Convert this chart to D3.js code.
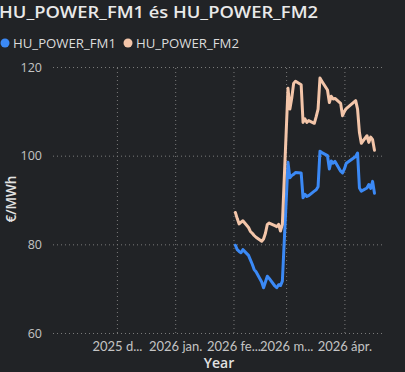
<!DOCTYPE html>
<html>
<head>
<meta charset="utf-8">
<script src="https://cdn.jsdelivr.net/npm/d3@7"></script>
<style>
  html, body {margin: 0; padding: 0; background: #212326; overflow: hidden;}
  svg {display: block; font-family: "Open Sans", "Noto Sans", sans-serif;}
</style>
</head>
<body>
<div id="chart"></div>
<script>
// trading days (business days, Easter holidays skipped)
var dates = [
  "2026-02-02","2026-02-03","2026-02-04","2026-02-05","2026-02-06",
  "2026-02-09","2026-02-10","2026-02-11","2026-02-12","2026-02-13",
  "2026-02-16","2026-02-17","2026-02-18","2026-02-19","2026-02-20",
  "2026-02-23","2026-02-24","2026-02-25","2026-02-26","2026-02-27",
  "2026-03-02","2026-03-03","2026-03-04","2026-03-05","2026-03-06",
  "2026-03-09","2026-03-10","2026-03-11","2026-03-12","2026-03-13",
  "2026-03-16","2026-03-17","2026-03-18","2026-03-19","2026-03-20",
  "2026-03-23","2026-03-24","2026-03-25","2026-03-26","2026-03-27",
  "2026-03-30","2026-03-31","2026-04-01","2026-04-02",
  "2026-04-07","2026-04-08","2026-04-09","2026-04-10",
  "2026-04-13","2026-04-14","2026-04-15","2026-04-16","2026-04-17"
];

var fm1 = [
  79.8, 78.8, 78.4, 78.1, 78.8, 77.5, 76.5, 75.5, 74.3, 73.8,
  71.5, 70.2, 71.5, 72.8, 72.3, 70.6, 70.2, 70.9, 70.7, 71.7,
  98.5, 95.0, 95.5, 95.8, 96.2, 96.1, 90.5, 91.3, 90.8, 91.0,
  92.0, 92.3, 93.0, 101.0, 100.7, 100.0, 97.0, 98.8, 98.3, 98.7,
  96.5, 96.1, 97.0, 98.3,
  99.8, 100.6, 92.7, 92.0,
  92.7, 93.5, 92.6, 94.2, 91.5
];

var fm2 = [
  87.2, 85.8, 84.6, 85.0, 85.3, 83.8, 82.9, 82.5, 82.0, 81.6,
  80.7, 81.2, 82.5, 84.5, 84.8, 84.2, 84.0, 84.5, 83.0, 84.5,
  115.2, 110.5, 113.0, 116.3, 116.8, 116.0, 107.5, 108.3, 107.5, 107.9,
  107.3, 108.8, 110.5, 117.5, 116.8, 114.8, 112.0, 113.4, 112.8, 112.9,
  111.8, 109.0, 110.0, 110.6,
  112.4, 110.5, 105.2, 102.8,
  104.5, 103.0, 104.2, 103.6, 101.2
];

var seriesNames = ["HU_POWER_FM1", "HU_POWER_FM2"];
var seriesColors = ["#3b89f5", "#f3c5a9"];

var xTickDates = ["2025-12-01", "2026-01-01", "2026-02-01", "2026-03-01", "2026-04-01"];
var xTickLabels = ["2025 d...", "2026 jan.", "2026 fe...", "2026 m...", "2026 ápr."];
var yTicks = [60, 80, 100, 120];

var width = 405, height = 372;
var margin = {top: 67, right: 23, bottom: 39, left: 53};

var parse = d3.timeParse("%Y-%m-%d");

var svg = d3.select("#chart")
  .append("svg")
    .attr("width", width)
    .attr("height", height);

var x = d3.scaleTime()
    .domain([parse("2025-10-28"), parse("2026-04-21")])
    .range([margin.left, width - margin.right]);

var y = d3.scaleLinear()
    .domain([60, 120])
    .range([height - margin.bottom, margin.top]);

// title
svg.append("text")
  .attr("x", -1)
  .attr("y", 18)
  .attr("fill", "#e9e9e9")
  .attr("font-size", 15.5)
  .attr("font-weight", 600)
  .attr("textLength", 319)
  .attr("lengthAdjust", "spacingAndGlyphs")
  .text("HU_POWER_FM1 és HU_POWER_FM2");

// legend
var legendX = [5, 128];
seriesNames.forEach(function(name, i){
  svg.append("circle")
    .attr("cx", legendX[i])
    .attr("cy", 43)
    .attr("r", 4.5)
    .attr("fill", seriesColors[i]);
  svg.append("text")
    .attr("x", legendX[i] + 8)
    .attr("y", 48)
    .attr("fill", "#dcdcdc")
    .attr("font-size", 13.5)
    .attr("textLength", 103)
    .attr("lengthAdjust", "spacingAndGlyphs")
    .text(name);
});

// horizontal grid + y labels
var yAxis = svg.append("g")
  .attr("transform", "translate(" + margin.left + ",0)")
  .call(d3.axisLeft(y)
    .tickValues(yTicks)
    .tickSize(-(width - margin.left - margin.right))
    .tickPadding(11)
    .tickFormat(d3.format("d")));
yAxis.select(".domain").remove();
yAxis.selectAll("line")
  .attr("stroke", "#7a7a7a")
  .attr("stroke-width", 1)
  .attr("stroke-dasharray", "1,3");
yAxis.selectAll("text")
  .attr("fill", "#c4c4c4")
  .attr("font-size", 12.5)
  .attr("font-family", "'Open Sans', sans-serif");

// vertical grid + x labels
var xAxis = svg.append("g")
  .attr("transform", "translate(0," + (height - margin.bottom) + ")")
  .call(d3.axisBottom(x)
    .tickValues(xTickDates.map(parse))
    .tickSize(-(height - margin.top - margin.bottom))
    .tickPadding(9)
    .tickFormat(function(d, i){ return xTickLabels[i]; }));
xAxis.select(".domain").remove();
xAxis.selectAll("line")
  .attr("stroke", "#7a7a7a")
  .attr("stroke-width", 1)
  .attr("stroke-dasharray", "1,3");
xAxis.selectAll("text")
  .attr("fill", "#c4c4c4")
  .attr("font-size", 13)
  .attr("font-family", "Lato, 'Open Sans', sans-serif");

// axis titles
svg.append("text")
  .attr("x", 219)
  .attr("y", 368)
  .attr("text-anchor", "middle")
  .attr("fill", "#e2e2e2")
  .attr("font-size", 14)
  .attr("font-weight", 600)
  .text("Year");

svg.append("text")
  .attr("transform", "translate(16,199) rotate(-90)")
  .attr("text-anchor", "middle")
  .attr("fill", "#e2e2e2")
  .attr("font-size", 13.5)
  .attr("font-weight", 600)
  .text("€/MWh");

// lines
var line = d3.line()
  .x(function(d){ return x(d.date); })
  .y(function(d){ return y(d.value); });

[fm1, fm2].forEach(function(values, i){
  var data = values.map(function(v, j){
    return {date: parse(dates[j]), value: v};
  });
  svg.append("path")
    .datum(data)
    .attr("fill", "none")
    .attr("stroke", seriesColors[i])
    .attr("stroke-width", 3)
    .attr("stroke-linejoin", "round")
    .attr("stroke-linecap", "round")
    .attr("d", line);
});
</script>
</body>
</html>
